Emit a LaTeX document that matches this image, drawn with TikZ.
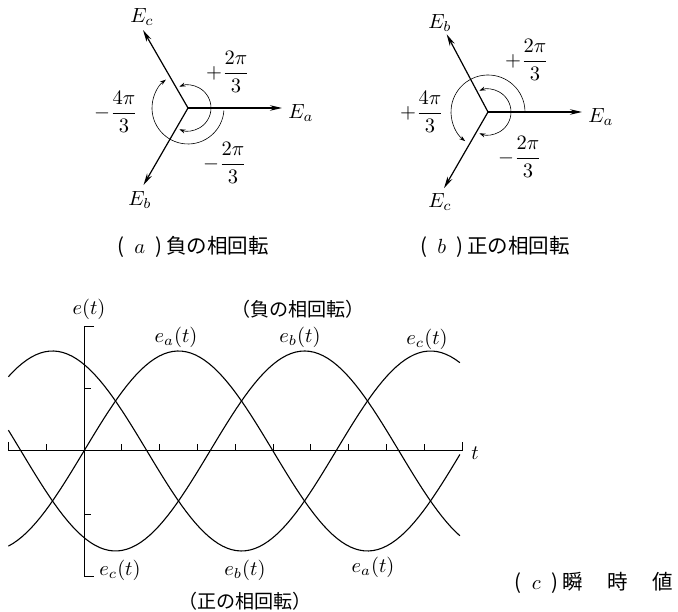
\documentclass[tikz,border=0pt]{standalone}
\usepackage{amsmath}
\usepackage{fontspec}
\newfontfamily\jp{Noto Sans CJK JP}
\usetikzlibrary{arrows.meta,calc}

\begin{document}
\begin{tikzpicture}[x=1pt,y=1pt,
	every node/.style={scale=2.05},
	phasor/.style={line width=1.2pt,-{Stealth[length=12pt,width=5.5pt]}},
	rot/.style={line width=0.6pt,-{Stealth[length=6pt,width=4pt]}},
	wave/.style={line width=1.1pt},
	capt/.style={font=\fontsize{10}{12}\selectfont\jp},
	seqlabel/.style={font=\fontsize{9.3}{11}\selectfont\jp}]
	\useasboundingbox (0,0) rectangle (678,612);

	% (a) negative sequence
	\coordinate (oa) at (188,504);
	\coordinate (aEa) at (282,504);
	\coordinate (aEc) at ($(oa)+(120:90)$);
	\coordinate (aEb) at ($(oa)+(240:89)$);
	\draw[phasor] (oa)--(aEa);
	\draw[phasor] (oa)--(aEc);
	\draw[phasor] (oa)--(aEb);
	\draw[rot] (oa) ++(0:23) arc[start angle=0,end angle=112,radius=23];
	\draw[rot] (oa) ++(0:23) arc[start angle=0,end angle=-112,radius=23];
	\draw[rot] (oa) ++(-4:36) arc[start angle=-4,end angle=-232,radius=36];
	\node (laEa) at (301,499) {$E_a$};
	\node (laEc) at (142,595) {$E_c$};
	\node (laEb) at (140,412) {$E_b$};
	\node (la1) at (228,540) {$+\dfrac{2\pi}{3}$};
	\node (la2) at (116,500) {$-\dfrac{4\pi}{3}$};
	\node (la3) at (225,449) {$-\dfrac{2\pi}{3}$};
	\node[capt] (capa) at (193,365) {(\hspace{5pt}$a$\hspace{5pt})\hspace{2pt}負の相回転};

	% (b) positive sequence
	\coordinate (ob) at (488,500);
	\coordinate (bEa) at (582,500);
	\coordinate (bEb) at ($(ob)+(118:88)$);
	\coordinate (bEc) at ($(ob)+(240:88)$);
	\draw[phasor] (ob)--(bEa);
	\draw[phasor] (ob)--(bEb);
	\draw[phasor] (ob)--(bEc);
	\draw[rot] (ob) ++(0:23) arc[start angle=0,end angle=112,radius=23];
	\draw[rot] (ob) ++(0:23) arc[start angle=0,end angle=-112,radius=23];
	\draw[rot] (ob) ++(2:37) arc[start angle=2,end angle=232,radius=37];
	\node (lbEa) at (601,495) {$E_a$};
	\node (lbEb) at (440,589) {$E_b$};
	\node (lbEc) at (440,410) {$E_c$};
	\node (lb1) at (527,552) {$+\dfrac{2\pi}{3}$};
	\node (lb2) at (422,500) {$+\dfrac{4\pi}{3}$};
	\node (lb3) at (520,455) {$-\dfrac{2\pi}{3}$};
	\node[capt] (capb) at (495,365) {(\hspace{5pt}$b$\hspace{5pt})\hspace{2pt}正の相回転};

	% (c) instantaneous values
	\coordinate (t0) at (84,161);
	\coordinate (tl) at (8.4,161);
	\coordinate (tr) at (462,161);
	\draw[line width=1pt] (8.4,170)--(tl)--(tr)--(462,170);
	\foreach \k in {-1,1,2,...,9}
		\draw[line width=1pt] (84+\k*37.8,161)--++(0,7);
	\draw[line width=1pt] (94,285)--(84,285)--(84,35)--(94,35);
	\draw[line width=1pt] (84,223)--++(7,0);
	\draw[line width=1pt] (84,97)--++(7,0);
	\draw[wave] plot[domain=-72:358,samples=100] ({84+1.05*\x},{161+100*sin(\x)});
	\draw[wave] plot[domain=-72:358,samples=100] ({84+1.05*\x},{161+100*sin(\x-120)});
	\draw[wave] plot[domain=-72:358,samples=100] ({84+1.05*\x},{161+100*sin(\x+120)});
	\node (le) at (89,303) {$e(t)$};
	\node (lt) at (475,159) {$t$};
	\node (lea) at (176,275) {$e_a(t)$};
	\node (leb) at (300,275) {$e_b(t)$};
	\node (lec) at (427,273) {$e_c(t)$};
	\node[seqlabel] (neg) at (298,303) {（負の相回転）};
	\node (lec2) at (120,42) {$e_c(t)$};
	\node (leb2) at (245,42) {$e_b(t)$};
	\node (lea2) at (373,45) {$e_a(t)$};
	\node[seqlabel] (pos) at (245,11) {（正の相回転）};
	\node[capt,anchor=east] (capc) at (680,29) {(\hspace{5pt}$c$\hspace{5pt})\hspace{2pt}瞬\hspace{12pt}時\hspace{12pt}値};
\end{tikzpicture}
\end{document}
